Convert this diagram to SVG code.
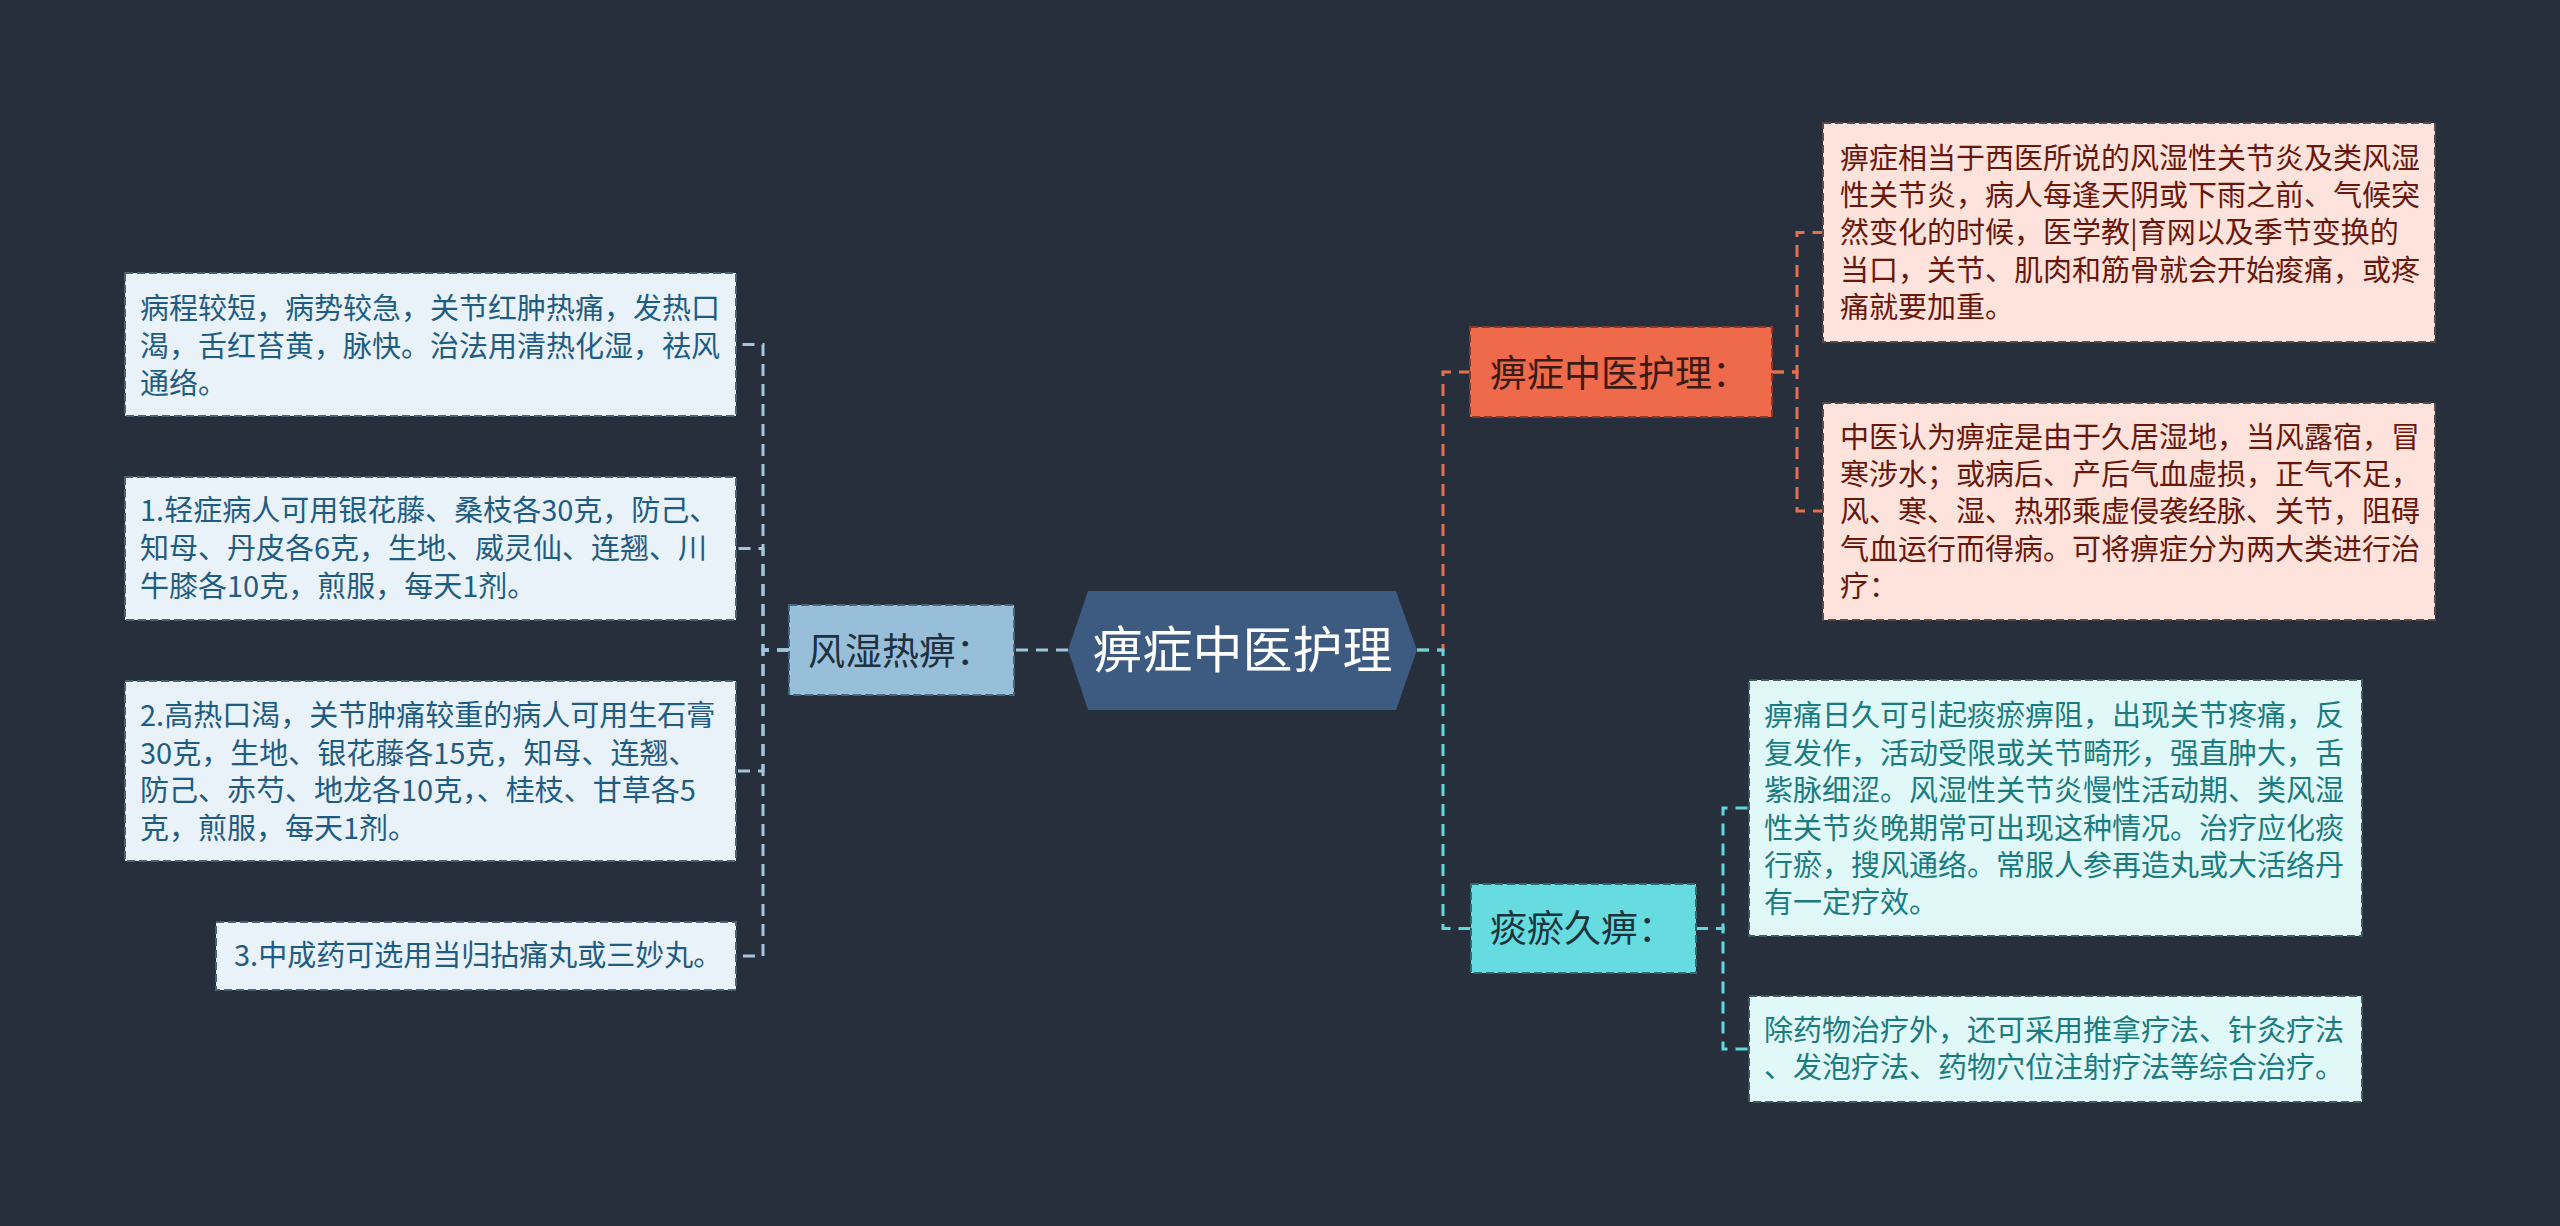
<svg xmlns="http://www.w3.org/2000/svg" width="2560" height="1226" viewBox="0 0 2560 1226">
<style>
text{font-family:"Noto Sans CJK SC","Noto Sans",sans-serif}
.t{font-size:29px}
.bl rect{fill:#e9f2f8;stroke:#4a6275;stroke-width:2;stroke-dasharray:8 4}
.bl text{fill:#1f5c84}
.or rect{fill:#fde3dc;stroke:#5a4a4a;stroke-width:2;stroke-dasharray:8 4}
.or text{fill:#6a170b}
.cy rect{fill:#e0f8f8;stroke:#3e5a62;stroke-width:2;stroke-dasharray:8 4}
.cy text{fill:#1a7b80}
.c{fill:none;stroke-width:3;stroke-dasharray:12 8}
.cb{stroke:#a3c6dd}
.co{stroke:#e76f4e}
.cc{stroke:#62d8de}
.mid{font-size:37px}
</style>
<rect width="2560" height="1226" fill="#272f3d"/>
<g id="connectors">
<path class="c cb" d="M1068 650H1014"/>
<path class="c cb" d="M789 650H763V344.5H736"/>
<path class="c cb" d="M789 650H763V548.5H736"/>
<path class="c cb" d="M789 650H763V771H736"/>
<path class="c cb" d="M789 650H763V956H736"/>
<path class="c co" d="M1417 650H1443V372H1470"/>
<path class="c cc" d="M1417 650H1443V928.5H1471"/>
<path class="c co" d="M1772 372H1797V232.5H1823"/>
<path class="c co" d="M1772 372H1797V511H1823"/>
<path class="c cc" d="M1696 928.5H1723V808H1749"/>
<path class="c cc" d="M1696 928.5H1723V1049H1749"/>
</g>
<g id="root">
<polygon points="1068,650 1088,591 1396,591 1417,650 1396,710 1088,710" fill="#3d5a80"/>
<text x="1242.5" y="668" font-size="50" fill="#ffffff" text-anchor="middle">痹症中医护理</text>
</g>
<g id="n-fengshi">
<rect x="789" y="605" width="225" height="90" fill="#98bfd9" stroke="#4a6478" stroke-width="2" stroke-dasharray="8 4"/>
<text class="mid" x="808" y="665" fill="#20303e">风湿热痹：</text>
</g>
<g id="n-left1" class="bl">
<rect x="125" y="273" width="611" height="143"/>
<text class="t" x="140" y="319">病程较短，病势较急，关节红肿热痛，发热口</text>
<text class="t" x="140" y="356.5">渴，舌红苔黄，脉快。治法用清热化湿，祛风</text>
<text class="t" x="140" y="394">通络。</text>
</g>
<g id="n-left2" class="bl">
<rect x="125" y="477" width="611" height="143"/>
<text class="t" x="140" y="521">1.轻症病人可用银花藤、桑枝各30克，防己、</text>
<text class="t" x="140" y="559">知母、丹皮各6克，生地、威灵仙、连翘、川</text>
<text class="t" x="140" y="597">牛膝各10克，煎服，每天1剂。</text>
</g>
<g id="n-left3" class="bl">
<rect x="125" y="681" width="611" height="180"/>
<text class="t" x="140" y="725.5">2.高热口渴，关节肿痛较重的病人可用生石膏</text>
<text class="t" x="140" y="763.5">30克，生地、银花藤各15克，知母、连翘、</text>
<text class="t" x="140" y="801">防己、赤芍、地龙各10克，、桂枝、甘草各5</text>
<text class="t" x="140" y="839">克，煎服，每天1剂。</text>
</g>
<g id="n-left4" class="bl">
<rect x="216" y="922" width="520" height="68"/>
<text class="t" x="234" y="966">3.中成药可选用当归拈痛丸或三妙丸。</text>
</g>
<g id="n-orange">
<rect x="1470" y="327" width="302" height="90" fill="#ee6a4a" stroke="#8a3a28" stroke-width="2" stroke-dasharray="8 4"/>
<text class="mid" x="1490" y="387" fill="#3a1b14">痹症中医护理：</text>
</g>
<g id="n-or1" class="or">
<rect x="1823" y="123" width="612" height="219"/>
<text class="t" x="1840" y="169">痹症相当于西医所说的风湿性关节炎及类风湿</text>
<text class="t" x="1840" y="206">性关节炎，病人每逢天阴或下雨之前、气候突</text>
<text class="t" x="1840" y="243">然变化的时候，医学教|育网以及季节变换的</text>
<text class="t" x="1840" y="280.5">当口，关节、肌肉和筋骨就会开始痠痛，或疼</text>
<text class="t" x="1840" y="317.5">痛就要加重。</text>
</g>
<g id="n-or2" class="or">
<rect x="1823" y="403" width="612" height="217"/>
<text class="t" x="1840" y="447.5">中医认为痹症是由于久居湿地，当风露宿，冒</text>
<text class="t" x="1840" y="484.5">寒涉水；或病后、产后气血虚损，正气不足，</text>
<text class="t" x="1840" y="522">风、寒、湿、热邪乘虚侵袭经脉、关节，阻碍</text>
<text class="t" x="1840" y="559.5">气血运行而得病。可将痹症分为两大类进行治</text>
<text class="t" x="1840" y="597">疗：</text>
</g>
<g id="n-cyan">
<rect x="1471" y="884" width="225" height="89" fill="#66dce1" stroke="#2f6a72" stroke-width="2" stroke-dasharray="8 4"/>
<text class="mid" x="1490" y="942" fill="#1b333b">痰瘀久痹：</text>
</g>
<g id="n-cy1" class="cy">
<rect x="1749" y="680" width="613" height="256"/>
<text class="t" x="1764" y="726">痹痛日久可引起痰瘀痹阻，出现关节疼痛，反</text>
<text class="t" x="1764" y="764">复发作，活动受限或关节畸形，强直肿大，舌</text>
<text class="t" x="1764" y="801">紫脉细涩。风湿性关节炎慢性活动期、类风湿</text>
<text class="t" x="1764" y="839">性关节炎晚期常可出现这种情况。治疗应化痰</text>
<text class="t" x="1764" y="876">行瘀，搜风通络。常服人参再造丸或大活络丹</text>
<text class="t" x="1764" y="913">有一定疗效。</text>
</g>
<g id="n-cy2" class="cy">
<rect x="1749" y="996" width="613" height="106"/>
<text class="t" x="1764" y="1040.5">除药物治疗外，还可采用推拿疗法、针灸疗法</text>
<text class="t" x="1764" y="1077.5">、发泡疗法、药物穴位注射疗法等综合治疗。</text>
</g>
</svg>
